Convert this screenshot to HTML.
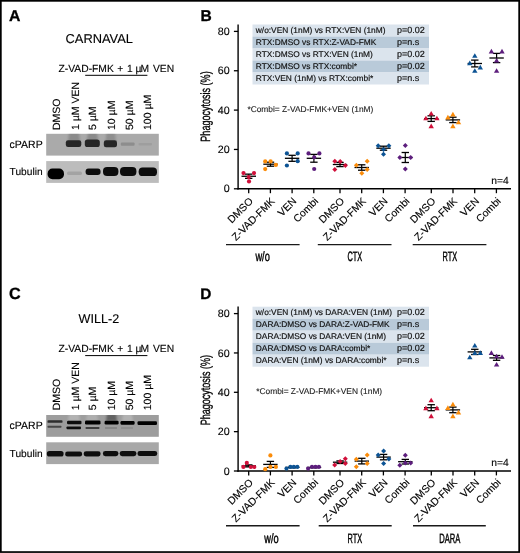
<!DOCTYPE html><html><head><meta charset="utf-8"><style>html,body{margin:0;padding:0;background:#fff;}svg{display:block;will-change:transform;}text{font-family:"Liberation Sans",sans-serif;text-rendering:geometricPrecision;}</style></head><body><svg width="520" height="553" viewBox="0 0 520 553" font-family="Liberation Sans, sans-serif">
<defs><filter id="blur" x="-20%" y="-50%" width="140%" height="200%"><feGaussianBlur stdDeviation="0.65"/></filter><filter id="blur2" x="-30%" y="-30%" width="160%" height="160%"><feGaussianBlur stdDeviation="1.2"/></filter></defs>
<rect x="0" y="0" width="520" height="553" fill="#fff"/>
<rect x="0.85" y="0.85" width="518.3" height="551.2" fill="none" stroke="#000" stroke-width="1.7"/>
<text x="9.0" y="20.6" font-size="15.8" text-anchor="start" font-weight="bold" fill="#000" stroke="#000" stroke-width="0.3">A</text>
<text x="200.5" y="21.05" font-size="15.6" text-anchor="start" font-weight="bold" fill="#000" stroke="#000" stroke-width="0.3">B</text>
<text x="9.1" y="298.9" font-size="16.2" text-anchor="start" font-weight="bold" fill="#000" stroke="#000" stroke-width="0.3">C</text>
<text x="200.2" y="299.2" font-size="15.4" text-anchor="start" font-weight="bold" fill="#000" stroke="#000" stroke-width="0.3">D</text>
<text x="65.6" y="42.9" font-size="12.85" text-anchor="start" font-weight="normal" fill="#000"  stroke="#000" stroke-width="0.12">CARNAVAL</text>
<text y="71.9" font-size="10.3" stroke="#000" stroke-width="0.12"><tspan x="58.5" word-spacing="0.7">Z-VAD-FMK + 1</tspan><tspan x="135.4">&#181;</tspan><tspan x="140.4">M</tspan><tspan x="153.0">VEN</tspan></text>
<line x1="85.2" y1="75.3" x2="147.4" y2="75.3" stroke="#000" stroke-width="1.0"/>
<text transform="translate(59.7,130.0) rotate(-90)" font-size="10.5" stroke="#000" stroke-width="0.12">DMSO</text>
<text transform="translate(78.6,130.0) rotate(-90)" font-size="10.5" stroke="#000" stroke-width="0.12">1 &#181;M VEN</text>
<text transform="translate(95.8,130.0) rotate(-90)" font-size="10.5" stroke="#000" stroke-width="0.12">5 &#181;M</text>
<text transform="translate(114.5,130.0) rotate(-90)" font-size="10.5" stroke="#000" stroke-width="0.12">10 &#181;M</text>
<text transform="translate(132.9,130.0) rotate(-90)" font-size="10.5" stroke="#000" stroke-width="0.12">50 &#181;M</text>
<text transform="translate(150.8,130.0) rotate(-90)" font-size="10.5" stroke="#000" stroke-width="0.12">100 &#181;M</text>
<rect x="46.2" y="133.8" width="112.6" height="21.8" fill="#aaaaaa"/>
<rect x="46.2" y="161.1" width="112.6" height="21.8" fill="#bcbcbc"/>
<clipPath id="c0a"><rect x="46.2" y="133.8" width="112.6" height="21.8"/></clipPath><clipPath id="c0b"><rect x="46.2" y="161.1" width="112.6" height="21.8"/></clipPath>
<g clip-path="url(#c0a)">
<path d="M69 132 L79 132 L80 142 L68 142 Z" fill="#555" opacity="0.35" filter="url(#blur2)"/>
<path d="M88 132 L97 132 L98 141 L87 141 Z" fill="#555" opacity="0.35" filter="url(#blur2)"/>
<path d="M106.5 132 L115.0 132 L116.0 142 L105.5 142 Z" fill="#555" opacity="0.3" filter="url(#blur2)"/>
<rect x="65.8" y="140.2" width="15.5" height="6.8" rx="2.2666666666666666" fill="#222" opacity="0.97" filter="url(#blur)"/>
<rect x="84.8" y="139.4" width="15" height="7.6" rx="2.533333333333333" fill="#222" opacity="0.97" filter="url(#blur)"/>
<rect x="103.8" y="140.3" width="13.2" height="7.0" rx="2.3333333333333335" fill="#222" opacity="0.97" filter="url(#blur)"/>
<rect x="120.8" y="142.5" width="13.8" height="3.2" rx="1.0666666666666667" fill="#7a7a7a" opacity="0.6" filter="url(#blur)"/>
<rect x="138.5" y="143" width="13.5" height="2.4" rx="0.7999999999999999" fill="#8a8a8a" opacity="0.35" filter="url(#blur)"/>
</g>
<g clip-path="url(#c0b)">
<rect x="47.6" y="168.6" width="16.4" height="10.6" rx="4.8181818181818175" fill="#000" opacity="1" filter="url(#blur)"/>
<rect x="67" y="171.5" width="15" height="3.6" rx="1.6363636363636362" fill="#999" opacity="0.7" filter="url(#blur)"/>
<rect x="85.6" y="168.5" width="15" height="6.4" rx="2.909090909090909" fill="#111" opacity="1" filter="url(#blur)"/>
<rect x="103" y="167" width="15.4" height="9" rx="4.090909090909091" fill="#0a0a0a" opacity="1" filter="url(#blur)"/>
<rect x="120" y="167" width="16.4" height="9" rx="4.090909090909091" fill="#0a0a0a" opacity="1" filter="url(#blur)"/>
<rect x="138.7" y="167.5" width="18.3" height="8.5" rx="3.8636363636363633" fill="#0a0a0a" opacity="1" filter="url(#blur)"/>
</g>
<text x="9.6" y="148.1" font-size="10.5" text-anchor="start" font-weight="normal" fill="#000"  stroke="#000" stroke-width="0.12">cPARP</text>
<text x="9.6" y="175.3" font-size="10.2" text-anchor="start" font-weight="normal" fill="#000"  stroke="#000" stroke-width="0.12">Tubulin</text>
<text x="78.6" y="323.3" font-size="12.6" text-anchor="start" font-weight="normal" fill="#000"  stroke="#000" stroke-width="0.12">WILL-2</text>
<text y="352.20000000000005" font-size="10.3" stroke="#000" stroke-width="0.12"><tspan x="58.5" word-spacing="0.7">Z-VAD-FMK + 1</tspan><tspan x="135.4">&#181;</tspan><tspan x="140.4">M</tspan><tspan x="153.0">VEN</tspan></text>
<line x1="85.2" y1="355.6" x2="147.4" y2="355.6" stroke="#000" stroke-width="1.0"/>
<text transform="translate(59.7,410.3) rotate(-90)" font-size="10.5" stroke="#000" stroke-width="0.12">DMSO</text>
<text transform="translate(78.6,410.3) rotate(-90)" font-size="10.5" stroke="#000" stroke-width="0.12">1 &#181;M VEN</text>
<text transform="translate(95.8,410.3) rotate(-90)" font-size="10.5" stroke="#000" stroke-width="0.12">5 &#181;M</text>
<text transform="translate(114.5,410.3) rotate(-90)" font-size="10.5" stroke="#000" stroke-width="0.12">10 &#181;M</text>
<text transform="translate(132.9,410.3) rotate(-90)" font-size="10.5" stroke="#000" stroke-width="0.12">50 &#181;M</text>
<text transform="translate(150.8,410.3) rotate(-90)" font-size="10.5" stroke="#000" stroke-width="0.12">100 &#181;M</text>
<rect x="46.2" y="415.0" width="112.6" height="21.8" fill="#9d9d9d"/>
<rect x="46.2" y="442.29999999999995" width="112.6" height="21.8" fill="#a8a8a8"/>
<clipPath id="c281a"><rect x="46.2" y="415.0" width="112.6" height="21.8"/></clipPath><clipPath id="c281b"><rect x="46.2" y="442.29999999999995" width="112.6" height="21.8"/></clipPath>
<g clip-path="url(#c281a)">
<path d="M69 413.2 L79 413.2 L80 421.0 L68 421.0 Z" fill="#c8c8c8" opacity="0.5" filter="url(#blur2)"/>
<path d="M87 413.2 L97 413.2 L98 421.0 L86 421.0 Z" fill="#c0c0c0" opacity="0.5" filter="url(#blur2)"/>
<path d="M107 413.2 L116 413.2 L117 421.0 L106 421.0 Z" fill="#333" opacity="0.55" filter="url(#blur2)"/>
<path d="M123 413.2 L132 413.2 L133 421.5 L122 421.5 Z" fill="#c8c8c8" opacity="0.5" filter="url(#blur2)"/>
<rect x="47.5" y="420.2" width="15" height="2.6" rx="0.8666666666666667" fill="#222" opacity="0.9" filter="url(#blur)"/>
<rect x="47.5" y="425.7" width="14" height="2.0" rx="0.6666666666666666" fill="#333" opacity="0.8" filter="url(#blur)"/>
<rect x="67" y="420.7" width="14.5" height="3.6" rx="1.2" fill="#111" opacity="1" filter="url(#blur)"/>
<rect x="66.5" y="426.4" width="14.5" height="2.8" rx="0.9333333333333332" fill="#111" opacity="1" filter="url(#blur)"/>
<rect x="85" y="420.5" width="15.5" height="4" rx="1.3333333333333333" fill="#050505" opacity="1" filter="url(#blur)"/>
<rect x="85.5" y="426.9" width="14" height="2" rx="0.6666666666666666" fill="#333" opacity="0.9" filter="url(#blur)"/>
<rect x="104.6" y="420.7" width="14" height="3.8" rx="1.2666666666666666" fill="#050505" opacity="1" filter="url(#blur)"/>
<rect x="105" y="427.4" width="12" height="1.2" rx="0.39999999999999997" fill="#555" opacity="0.6" filter="url(#blur)"/>
<rect x="120.5" y="420.9" width="14.1" height="3.8" rx="1.2666666666666666" fill="#050505" opacity="1" filter="url(#blur)"/>
<rect x="121" y="427.4" width="12" height="1.2" rx="0.39999999999999997" fill="#666" opacity="0.5" filter="url(#blur)"/>
<rect x="137.5" y="421.2" width="19.5" height="3.8" rx="1.2666666666666666" fill="#050505" opacity="1" filter="url(#blur)"/>
</g>
<g clip-path="url(#c281b)">
<rect x="46.8" y="450.9" width="16.8" height="5.6" rx="2.545454545454545" fill="#111" opacity="1" filter="url(#blur)"/>
<rect x="65.2" y="451.4" width="16.9" height="5" rx="2.2727272727272725" fill="#111" opacity="1" filter="url(#blur)"/>
<rect x="83.7" y="451.2" width="16.9" height="5.2" rx="2.3636363636363633" fill="#111" opacity="1" filter="url(#blur)"/>
<rect x="102.9" y="450.9" width="15.5" height="5.4" rx="2.4545454545454546" fill="#111" opacity="1" filter="url(#blur)"/>
<rect x="119.7" y="450.9" width="16.7" height="5.4" rx="2.4545454545454546" fill="#111" opacity="1" filter="url(#blur)"/>
<rect x="137.5" y="451.09999999999997" width="19.7" height="5" rx="2.2727272727272725" fill="#111" opacity="1" filter="url(#blur)"/>
</g>
<text x="9.6" y="429.29999999999995" font-size="10.5" text-anchor="start" font-weight="normal" fill="#000"  stroke="#000" stroke-width="0.12">cPARP</text>
<text x="9.6" y="456.5" font-size="10.2" text-anchor="start" font-weight="normal" fill="#000"  stroke="#000" stroke-width="0.12">Tubulin</text>
<rect x="252.5" y="24.5" width="176.5" height="12" fill="#dbe4ed"/>
<rect x="252.5" y="36.5" width="176.5" height="12" fill="#b9cad9"/>
<rect x="252.5" y="48.5" width="176.5" height="12" fill="#dbe4ed"/>
<rect x="252.5" y="60.5" width="176.5" height="12" fill="#b9cad9"/>
<rect x="252.5" y="72.5" width="176.5" height="12" fill="#dbe4ed"/>
<text x="255.8" y="33.1" font-size="8.35" text-anchor="start" font-weight="normal" fill="#111" stroke="#111" stroke-width="0.18">w/o:VEN (1nM) vs RTX:VEN (1nM)</text>
<text x="396.9" y="33.0" font-size="9.0" text-anchor="start" font-weight="normal" fill="#111" stroke="#111" stroke-width="0.18">p=0.02</text>
<text x="255.8" y="45.1" font-size="8.35" text-anchor="start" font-weight="normal" fill="#111" stroke="#111" stroke-width="0.18">RTX:DMSO vs RTX:Z-VAD-FMK</text>
<text x="396.9" y="45.0" font-size="9.0" text-anchor="start" font-weight="normal" fill="#111" stroke="#111" stroke-width="0.18">p=n.s</text>
<text x="255.8" y="57.1" font-size="8.35" text-anchor="start" font-weight="normal" fill="#111" stroke="#111" stroke-width="0.18">RTX:DMSO vs RTX:VEN (1nM)</text>
<text x="396.9" y="57.0" font-size="9.0" text-anchor="start" font-weight="normal" fill="#111" stroke="#111" stroke-width="0.18">p=0.02</text>
<text x="255.8" y="69.1" font-size="8.35" text-anchor="start" font-weight="normal" fill="#111" stroke="#111" stroke-width="0.18">RTX:DMSO vs RTX:combi*</text>
<text x="396.9" y="69.0" font-size="9.0" text-anchor="start" font-weight="normal" fill="#111" stroke="#111" stroke-width="0.18">p=0.02</text>
<text x="255.8" y="81.1" font-size="8.35" text-anchor="start" font-weight="normal" fill="#111" stroke="#111" stroke-width="0.18">RTX:VEN (1nM) vs RTX:combi*</text>
<text x="396.9" y="81.0" font-size="9.0" text-anchor="start" font-weight="normal" fill="#111" stroke="#111" stroke-width="0.18">p=n.s</text>
<line x1="238.1" y1="24.4" x2="238.1" y2="189.45000000000002" stroke="#000" stroke-width="1.4"/>
<line x1="233.9" y1="188.8" x2="238.1" y2="188.8" stroke="#000" stroke-width="1.3"/>
<text x="229.7" y="192.4" font-size="10.7" text-anchor="end" font-weight="normal" fill="#000"  stroke="#000" stroke-width="0.12">0</text>
<line x1="233.9" y1="149.45000000000002" x2="238.1" y2="149.45000000000002" stroke="#000" stroke-width="1.3"/>
<text x="229.7" y="153.05" font-size="10.7" text-anchor="end" font-weight="normal" fill="#000"  stroke="#000" stroke-width="0.12">20</text>
<line x1="233.9" y1="110.10000000000001" x2="238.1" y2="110.10000000000001" stroke="#000" stroke-width="1.3"/>
<text x="229.7" y="113.7" font-size="10.7" text-anchor="end" font-weight="normal" fill="#000"  stroke="#000" stroke-width="0.12">40</text>
<line x1="233.9" y1="70.75000000000001" x2="238.1" y2="70.75000000000001" stroke="#000" stroke-width="1.3"/>
<text x="229.7" y="74.35000000000001" font-size="10.7" text-anchor="end" font-weight="normal" fill="#000"  stroke="#000" stroke-width="0.12">60</text>
<line x1="233.9" y1="31.400000000000006" x2="238.1" y2="31.400000000000006" stroke="#000" stroke-width="1.3"/>
<text x="229.7" y="35.00000000000001" font-size="10.7" text-anchor="end" font-weight="normal" fill="#000"  stroke="#000" stroke-width="0.12">80</text>
<line x1="237.4" y1="188.8" x2="511" y2="188.8" stroke="#000" stroke-width="1.4"/>
<line x1="248.7" y1="188.8" x2="248.7" y2="193.20000000000002" stroke="#000" stroke-width="1.3"/>
<line x1="270.4" y1="188.8" x2="270.4" y2="193.20000000000002" stroke="#000" stroke-width="1.3"/>
<line x1="292.1" y1="188.8" x2="292.1" y2="193.20000000000002" stroke="#000" stroke-width="1.3"/>
<line x1="313.8" y1="188.8" x2="313.8" y2="193.20000000000002" stroke="#000" stroke-width="1.3"/>
<line x1="340" y1="188.8" x2="340" y2="193.20000000000002" stroke="#000" stroke-width="1.3"/>
<line x1="361.7" y1="188.8" x2="361.7" y2="193.20000000000002" stroke="#000" stroke-width="1.3"/>
<line x1="383.4" y1="188.8" x2="383.4" y2="193.20000000000002" stroke="#000" stroke-width="1.3"/>
<line x1="405.1" y1="188.8" x2="405.1" y2="193.20000000000002" stroke="#000" stroke-width="1.3"/>
<line x1="431.3" y1="188.8" x2="431.3" y2="193.20000000000002" stroke="#000" stroke-width="1.3"/>
<line x1="453" y1="188.8" x2="453" y2="193.20000000000002" stroke="#000" stroke-width="1.3"/>
<line x1="474.7" y1="188.8" x2="474.7" y2="193.20000000000002" stroke="#000" stroke-width="1.3"/>
<line x1="496.4" y1="188.8" x2="496.4" y2="193.20000000000002" stroke="#000" stroke-width="1.3"/>
<text transform="translate(210.0,106.5) rotate(-90) scale(0.675,1)" font-size="13.4" stroke="#000" stroke-width="0.35" text-anchor="middle">Phagocytosis (%)</text>
<text x="247.4" y="112" font-size="8.4" text-anchor="start" font-weight="normal" fill="#222"  stroke="#222" stroke-width="0.12">*Combi= Z-VAD-FMK+VEN (1nM)</text>
<text x="491.2" y="183.6" font-size="10.3" text-anchor="start" font-weight="normal" fill="#000"  stroke="#000" stroke-width="0.12">n=4</text>
<text transform="translate(253.7,201.8) rotate(-45)" font-size="10.4" text-anchor="end" stroke="#000" stroke-width="0.12">DMSO</text>
<text transform="translate(275.4,201.8) rotate(-45)" font-size="10.4" text-anchor="end" stroke="#000" stroke-width="0.12">Z-VAD-FMK</text>
<text transform="translate(297.1,201.8) rotate(-45)" font-size="10.4" text-anchor="end" stroke="#000" stroke-width="0.12">VEN</text>
<text transform="translate(318.8,201.8) rotate(-45)" font-size="10.4" text-anchor="end" stroke="#000" stroke-width="0.12">Combi</text>
<text transform="translate(345,201.8) rotate(-45)" font-size="10.4" text-anchor="end" stroke="#000" stroke-width="0.12">DMSO</text>
<text transform="translate(366.7,201.8) rotate(-45)" font-size="10.4" text-anchor="end" stroke="#000" stroke-width="0.12">Z-VAD-FMK</text>
<text transform="translate(388.4,201.8) rotate(-45)" font-size="10.4" text-anchor="end" stroke="#000" stroke-width="0.12">VEN</text>
<text transform="translate(410.1,201.8) rotate(-45)" font-size="10.4" text-anchor="end" stroke="#000" stroke-width="0.12">Combi</text>
<text transform="translate(436.3,201.8) rotate(-45)" font-size="10.4" text-anchor="end" stroke="#000" stroke-width="0.12">DMSO</text>
<text transform="translate(458,201.8) rotate(-45)" font-size="10.4" text-anchor="end" stroke="#000" stroke-width="0.12">Z-VAD-FMK</text>
<text transform="translate(479.7,201.8) rotate(-45)" font-size="10.4" text-anchor="end" stroke="#000" stroke-width="0.12">VEN</text>
<text transform="translate(501.4,201.8) rotate(-45)" font-size="10.4" text-anchor="end" stroke="#000" stroke-width="0.12">Combi</text>
<line x1="226" y1="244.6" x2="299.6" y2="244.6" stroke="#1a1a1a" stroke-width="1.4"/>
<line x1="317.8" y1="244.6" x2="391.5" y2="244.6" stroke="#1a1a1a" stroke-width="1.4"/>
<line x1="412.7" y1="244.6" x2="486.4" y2="244.6" stroke="#1a1a1a" stroke-width="1.4"/>
<text transform="translate(262.6,260.9) scale(0.68,1)" font-size="13.6" text-anchor="middle" stroke="#000" stroke-width="0.45">w/o</text>
<text transform="translate(354.8,260.9) scale(0.54,1)" font-size="13.6" text-anchor="middle" stroke="#000" stroke-width="0.45">CTX</text>
<text transform="translate(449.8,260.9) scale(0.54,1)" font-size="13.6" text-anchor="middle" stroke="#000" stroke-width="0.45">RTX</text>
<line x1="248.7" y1="174.15" x2="248.7" y2="178.35" stroke="#000" stroke-width="1.2"/>
<line x1="245.0" y1="174.15" x2="252.39999999999998" y2="174.15" stroke="#000" stroke-width="1.3"/>
<line x1="245.0" y1="178.35" x2="252.39999999999998" y2="178.35" stroke="#000" stroke-width="1.3"/>
<line x1="241.5" y1="176.25" x2="255.89999999999998" y2="176.25" stroke="#000" stroke-width="1.3"/>
<circle cx="243.5" cy="173.1" r="2.1" fill="#d1103a"/>
<circle cx="254" cy="173.1" r="2.1" fill="#d1103a"/>
<circle cx="248.7" cy="177.1" r="2.1" fill="#d1103a"/>
<circle cx="249" cy="181.4" r="2.1" fill="#d1103a"/>
<line x1="270.5" y1="162.2" x2="270.5" y2="166.2" stroke="#000" stroke-width="1.2"/>
<line x1="266.8" y1="162.2" x2="274.2" y2="162.2" stroke="#000" stroke-width="1.3"/>
<line x1="266.8" y1="166.2" x2="274.2" y2="166.2" stroke="#000" stroke-width="1.3"/>
<line x1="263.3" y1="164.2" x2="277.7" y2="164.2" stroke="#000" stroke-width="1.3"/>
<circle cx="265.2" cy="161.4" r="2.1" fill="#fb8c0a"/>
<circle cx="270.6" cy="161.4" r="2.1" fill="#fb8c0a"/>
<circle cx="275.9" cy="164.9" r="2.1" fill="#fb8c0a"/>
<circle cx="265.2" cy="169.1" r="2.1" fill="#fb8c0a"/>
<line x1="292.1" y1="155.3" x2="292.1" y2="161.3" stroke="#000" stroke-width="1.2"/>
<line x1="288.40000000000003" y1="155.3" x2="295.8" y2="155.3" stroke="#000" stroke-width="1.3"/>
<line x1="288.40000000000003" y1="161.3" x2="295.8" y2="161.3" stroke="#000" stroke-width="1.3"/>
<line x1="284.90000000000003" y1="158.3" x2="299.3" y2="158.3" stroke="#000" stroke-width="1.3"/>
<circle cx="286.9" cy="153.4" r="2.1" fill="#0c5394"/>
<circle cx="297.7" cy="153.4" r="2.1" fill="#0c5394"/>
<circle cx="297.7" cy="161.2" r="2.1" fill="#0c5394"/>
<circle cx="286.9" cy="165.5" r="2.1" fill="#0c5394"/>
<line x1="313.9" y1="154.4" x2="313.9" y2="162.20000000000002" stroke="#000" stroke-width="1.2"/>
<line x1="310.2" y1="154.4" x2="317.59999999999997" y2="154.4" stroke="#000" stroke-width="1.3"/>
<line x1="310.2" y1="162.20000000000002" x2="317.59999999999997" y2="162.20000000000002" stroke="#000" stroke-width="1.3"/>
<line x1="306.7" y1="158.3" x2="321.09999999999997" y2="158.3" stroke="#000" stroke-width="1.3"/>
<circle cx="308.5" cy="153.4" r="2.1" fill="#5d1e7d"/>
<circle cx="319.4" cy="153.4" r="2.1" fill="#5d1e7d"/>
<circle cx="314.2" cy="157.3" r="2.1" fill="#5d1e7d"/>
<circle cx="314.2" cy="169" r="2.1" fill="#5d1e7d"/>
<line x1="340.0" y1="162.4" x2="340.0" y2="166.6" stroke="#000" stroke-width="1.2"/>
<line x1="336.3" y1="162.4" x2="343.7" y2="162.4" stroke="#000" stroke-width="1.3"/>
<line x1="336.3" y1="166.6" x2="343.7" y2="166.6" stroke="#000" stroke-width="1.3"/>
<line x1="332.8" y1="164.5" x2="347.2" y2="164.5" stroke="#000" stroke-width="1.3"/>
<path d="M334.8 158.7L337.3 161.2L334.8 163.7L332.3 161.2Z" fill="#d1103a"/>
<path d="M340.2 159.1L342.7 161.6L340.2 164.1L337.7 161.6Z" fill="#d1103a"/>
<path d="M345.4 163.0L347.9 165.5L345.4 168.0L342.9 165.5Z" fill="#d1103a"/>
<path d="M334.8 166.9L337.3 169.4L334.8 171.9L332.3 169.4Z" fill="#d1103a"/>
<line x1="361.7" y1="164.8" x2="361.7" y2="170.2" stroke="#000" stroke-width="1.2"/>
<line x1="358.0" y1="164.8" x2="365.4" y2="164.8" stroke="#000" stroke-width="1.3"/>
<line x1="358.0" y1="170.2" x2="365.4" y2="170.2" stroke="#000" stroke-width="1.3"/>
<line x1="354.5" y1="167.5" x2="368.9" y2="167.5" stroke="#000" stroke-width="1.3"/>
<path d="M367.2 158.7L369.7 161.2L367.2 163.7L364.7 161.2Z" fill="#fb8c0a"/>
<path d="M356.4 162.8L358.9 165.3L356.4 167.8L353.9 165.3Z" fill="#fb8c0a"/>
<path d="M367.2 166.9L369.7 169.4L367.2 171.9L364.7 169.4Z" fill="#fb8c0a"/>
<path d="M361.8 170.8L364.3 173.3L361.8 175.8L359.3 173.3Z" fill="#fb8c0a"/>
<line x1="383.5" y1="146.2" x2="383.5" y2="150.2" stroke="#000" stroke-width="1.2"/>
<line x1="379.8" y1="146.2" x2="387.2" y2="146.2" stroke="#000" stroke-width="1.3"/>
<line x1="379.8" y1="150.2" x2="387.2" y2="150.2" stroke="#000" stroke-width="1.3"/>
<line x1="376.3" y1="148.2" x2="390.7" y2="148.2" stroke="#000" stroke-width="1.3"/>
<path d="M378.2 143.2L380.7 145.7L378.2 148.2L375.7 145.7Z" fill="#0c5394"/>
<path d="M388.9 143.2L391.4 145.7L388.9 148.2L386.4 145.7Z" fill="#0c5394"/>
<path d="M383.5 147.0L386.0 149.5L383.5 152.0L381.0 149.5Z" fill="#0c5394"/>
<path d="M383.5 151.7L386.0 154.2L383.5 156.7L381.0 154.2Z" fill="#0c5394"/>
<line x1="405.3" y1="152.5" x2="405.3" y2="162.5" stroke="#000" stroke-width="1.2"/>
<line x1="401.6" y1="152.5" x2="409.0" y2="152.5" stroke="#000" stroke-width="1.3"/>
<line x1="401.6" y1="162.5" x2="409.0" y2="162.5" stroke="#000" stroke-width="1.3"/>
<line x1="398.1" y1="157.5" x2="412.5" y2="157.5" stroke="#000" stroke-width="1.3"/>
<path d="M405.3 143.1L407.8 145.6L405.3 148.1L402.8 145.6Z" fill="#5d1e7d"/>
<path d="M399.9 155.0L402.4 157.5L399.9 160.0L397.4 157.5Z" fill="#5d1e7d"/>
<path d="M410.7 155.0L413.2 157.5L410.7 160.0L408.2 157.5Z" fill="#5d1e7d"/>
<path d="M405.3 166.6L407.8 169.1L405.3 171.6L402.8 169.1Z" fill="#5d1e7d"/>
<line x1="431.2" y1="115.8" x2="431.2" y2="121.39999999999999" stroke="#000" stroke-width="1.2"/>
<line x1="427.5" y1="115.8" x2="434.9" y2="115.8" stroke="#000" stroke-width="1.3"/>
<line x1="427.5" y1="121.39999999999999" x2="434.9" y2="121.39999999999999" stroke="#000" stroke-width="1.3"/>
<line x1="424.0" y1="118.6" x2="438.4" y2="118.6" stroke="#000" stroke-width="1.3"/>
<path d="M431.2 110.948L433.9 115.548L428.5 115.548Z" fill="#d1103a"/>
<path d="M425.9 115.74799999999999L428.59999999999997 120.348L423.2 120.348Z" fill="#d1103a"/>
<path d="M436.9 115.74799999999999L439.59999999999997 120.348L434.2 120.348Z" fill="#d1103a"/>
<path d="M431.2 123.548L433.9 128.148L428.5 128.148Z" fill="#d1103a"/>
<line x1="452.9" y1="117.2" x2="452.9" y2="122.60000000000001" stroke="#000" stroke-width="1.2"/>
<line x1="449.2" y1="117.2" x2="456.59999999999997" y2="117.2" stroke="#000" stroke-width="1.3"/>
<line x1="449.2" y1="122.60000000000001" x2="456.59999999999997" y2="122.60000000000001" stroke="#000" stroke-width="1.3"/>
<line x1="445.7" y1="119.9" x2="460.09999999999997" y2="119.9" stroke="#000" stroke-width="1.3"/>
<path d="M452.9 111.848L455.59999999999997 116.44800000000001L450.2 116.44800000000001Z" fill="#fb8c0a"/>
<path d="M447.9 114.848L450.59999999999997 119.44800000000001L445.2 119.44800000000001Z" fill="#fb8c0a"/>
<path d="M458.5 119.648L461.2 124.248L455.8 124.248Z" fill="#fb8c0a"/>
<path d="M452.9 123.548L455.59999999999997 128.148L450.2 128.148Z" fill="#fb8c0a"/>
<line x1="474.8" y1="60.1" x2="474.8" y2="66.9" stroke="#000" stroke-width="1.2"/>
<line x1="471.1" y1="60.1" x2="478.5" y2="60.1" stroke="#000" stroke-width="1.3"/>
<line x1="471.1" y1="66.9" x2="478.5" y2="66.9" stroke="#000" stroke-width="1.3"/>
<line x1="467.6" y1="63.5" x2="482.0" y2="63.5" stroke="#000" stroke-width="1.3"/>
<path d="M474.8 53.148L477.5 57.748L472.1 57.748Z" fill="#0c5394"/>
<path d="M469.8 60.548L472.5 65.148L467.1 65.148Z" fill="#0c5394"/>
<path d="M480.3 64.848L483.0 69.44800000000001L477.6 69.44800000000001Z" fill="#0c5394"/>
<path d="M474.8 68.24799999999999L477.5 72.848L472.1 72.848Z" fill="#0c5394"/>
<line x1="496.6" y1="53.4" x2="496.6" y2="62.6" stroke="#000" stroke-width="1.2"/>
<line x1="492.90000000000003" y1="53.4" x2="500.3" y2="53.4" stroke="#000" stroke-width="1.3"/>
<line x1="492.90000000000003" y1="62.6" x2="500.3" y2="62.6" stroke="#000" stroke-width="1.3"/>
<line x1="489.40000000000003" y1="58.0" x2="503.8" y2="58.0" stroke="#000" stroke-width="1.3"/>
<path d="M491.4 48.848000000000006L494.09999999999997 53.448L488.7 53.448Z" fill="#5d1e7d"/>
<path d="M502 48.848000000000006L504.7 53.448L499.3 53.448Z" fill="#5d1e7d"/>
<path d="M496.6 57.948L499.3 62.547999999999995L493.90000000000003 62.547999999999995Z" fill="#5d1e7d"/>
<path d="M496.6 68.24799999999999L499.3 72.848L493.90000000000003 72.848Z" fill="#5d1e7d"/>
<rect x="252.5" y="306.7" width="176.5" height="12" fill="#dbe4ed"/>
<rect x="252.5" y="318.7" width="176.5" height="12" fill="#b9cad9"/>
<rect x="252.5" y="330.7" width="176.5" height="12" fill="#dbe4ed"/>
<rect x="252.5" y="342.7" width="176.5" height="12" fill="#b9cad9"/>
<rect x="252.5" y="354.7" width="176.5" height="12" fill="#dbe4ed"/>
<text x="255.8" y="315.3" font-size="8.35" text-anchor="start" font-weight="normal" fill="#111" stroke="#111" stroke-width="0.18">w/o:VEN (1nM) vs DARA:VEN (1nM)</text>
<text x="396.9" y="315.2" font-size="9.0" text-anchor="start" font-weight="normal" fill="#111" stroke="#111" stroke-width="0.18">p=0.02</text>
<text x="255.8" y="327.3" font-size="8.35" text-anchor="start" font-weight="normal" fill="#111" stroke="#111" stroke-width="0.18">DARA:DMSO vs DARA:Z-VAD-FMK</text>
<text x="396.9" y="327.2" font-size="9.0" text-anchor="start" font-weight="normal" fill="#111" stroke="#111" stroke-width="0.18">p=n.s</text>
<text x="255.8" y="339.3" font-size="8.35" text-anchor="start" font-weight="normal" fill="#111" stroke="#111" stroke-width="0.18">DARA:DMSO vs DARA:VEN (1nM)</text>
<text x="396.9" y="339.2" font-size="9.0" text-anchor="start" font-weight="normal" fill="#111" stroke="#111" stroke-width="0.18">p=0.02</text>
<text x="255.8" y="351.3" font-size="8.35" text-anchor="start" font-weight="normal" fill="#111" stroke="#111" stroke-width="0.18">DARA:DMSO vs DARA:combi*</text>
<text x="396.9" y="351.2" font-size="9.0" text-anchor="start" font-weight="normal" fill="#111" stroke="#111" stroke-width="0.18">p=0.02</text>
<text x="255.8" y="363.3" font-size="8.35" text-anchor="start" font-weight="normal" fill="#111" stroke="#111" stroke-width="0.18">DARA:VEN (1nM) vs DARA:combi*</text>
<text x="396.9" y="363.2" font-size="9.0" text-anchor="start" font-weight="normal" fill="#111" stroke="#111" stroke-width="0.18">p=n.s</text>
<line x1="238.1" y1="306.59999999999997" x2="238.1" y2="471.65" stroke="#000" stroke-width="1.4"/>
<line x1="233.9" y1="471.0" x2="238.1" y2="471.0" stroke="#000" stroke-width="1.3"/>
<text x="229.7" y="474.6" font-size="10.7" text-anchor="end" font-weight="normal" fill="#000"  stroke="#000" stroke-width="0.12">0</text>
<line x1="233.9" y1="431.65" x2="238.1" y2="431.65" stroke="#000" stroke-width="1.3"/>
<text x="229.7" y="435.25" font-size="10.7" text-anchor="end" font-weight="normal" fill="#000"  stroke="#000" stroke-width="0.12">20</text>
<line x1="233.9" y1="392.3" x2="238.1" y2="392.3" stroke="#000" stroke-width="1.3"/>
<text x="229.7" y="395.90000000000003" font-size="10.7" text-anchor="end" font-weight="normal" fill="#000"  stroke="#000" stroke-width="0.12">40</text>
<line x1="233.9" y1="352.95" x2="238.1" y2="352.95" stroke="#000" stroke-width="1.3"/>
<text x="229.7" y="356.55" font-size="10.7" text-anchor="end" font-weight="normal" fill="#000"  stroke="#000" stroke-width="0.12">60</text>
<line x1="233.9" y1="313.6" x2="238.1" y2="313.6" stroke="#000" stroke-width="1.3"/>
<text x="229.7" y="317.20000000000005" font-size="10.7" text-anchor="end" font-weight="normal" fill="#000"  stroke="#000" stroke-width="0.12">80</text>
<line x1="237.4" y1="471.0" x2="511" y2="471.0" stroke="#000" stroke-width="1.4"/>
<line x1="248.7" y1="471.0" x2="248.7" y2="475.4" stroke="#000" stroke-width="1.3"/>
<line x1="270.4" y1="471.0" x2="270.4" y2="475.4" stroke="#000" stroke-width="1.3"/>
<line x1="292.1" y1="471.0" x2="292.1" y2="475.4" stroke="#000" stroke-width="1.3"/>
<line x1="313.8" y1="471.0" x2="313.8" y2="475.4" stroke="#000" stroke-width="1.3"/>
<line x1="340" y1="471.0" x2="340" y2="475.4" stroke="#000" stroke-width="1.3"/>
<line x1="361.7" y1="471.0" x2="361.7" y2="475.4" stroke="#000" stroke-width="1.3"/>
<line x1="383.4" y1="471.0" x2="383.4" y2="475.4" stroke="#000" stroke-width="1.3"/>
<line x1="405.1" y1="471.0" x2="405.1" y2="475.4" stroke="#000" stroke-width="1.3"/>
<line x1="431.3" y1="471.0" x2="431.3" y2="475.4" stroke="#000" stroke-width="1.3"/>
<line x1="453" y1="471.0" x2="453" y2="475.4" stroke="#000" stroke-width="1.3"/>
<line x1="474.7" y1="471.0" x2="474.7" y2="475.4" stroke="#000" stroke-width="1.3"/>
<line x1="496.4" y1="471.0" x2="496.4" y2="475.4" stroke="#000" stroke-width="1.3"/>
<text transform="translate(210.0,390.2) rotate(-90) scale(0.675,1)" font-size="13.4" stroke="#000" stroke-width="0.35" text-anchor="middle">Phagocytosis (%)</text>
<text x="256.2" y="394.2" font-size="8.4" text-anchor="start" font-weight="normal" fill="#222"  stroke="#222" stroke-width="0.12">*Combi= Z-VAD-FMK+VEN (1nM)</text>
<text x="491.2" y="465.79999999999995" font-size="10.3" text-anchor="start" font-weight="normal" fill="#000"  stroke="#000" stroke-width="0.12">n=4</text>
<text transform="translate(253.7,483.2) rotate(-45)" font-size="10.4" text-anchor="end" stroke="#000" stroke-width="0.12">DMSO</text>
<text transform="translate(275.4,483.2) rotate(-45)" font-size="10.4" text-anchor="end" stroke="#000" stroke-width="0.12">Z-VAD-FMK</text>
<text transform="translate(297.1,483.2) rotate(-45)" font-size="10.4" text-anchor="end" stroke="#000" stroke-width="0.12">VEN</text>
<text transform="translate(318.8,483.2) rotate(-45)" font-size="10.4" text-anchor="end" stroke="#000" stroke-width="0.12">Combi</text>
<text transform="translate(345,483.2) rotate(-45)" font-size="10.4" text-anchor="end" stroke="#000" stroke-width="0.12">DMSO</text>
<text transform="translate(366.7,483.2) rotate(-45)" font-size="10.4" text-anchor="end" stroke="#000" stroke-width="0.12">Z-VAD-FMK</text>
<text transform="translate(388.4,483.2) rotate(-45)" font-size="10.4" text-anchor="end" stroke="#000" stroke-width="0.12">VEN</text>
<text transform="translate(410.1,483.2) rotate(-45)" font-size="10.4" text-anchor="end" stroke="#000" stroke-width="0.12">Combi</text>
<text transform="translate(436.3,483.2) rotate(-45)" font-size="10.4" text-anchor="end" stroke="#000" stroke-width="0.12">DMSO</text>
<text transform="translate(458,483.2) rotate(-45)" font-size="10.4" text-anchor="end" stroke="#000" stroke-width="0.12">Z-VAD-FMK</text>
<text transform="translate(479.7,483.2) rotate(-45)" font-size="10.4" text-anchor="end" stroke="#000" stroke-width="0.12">VEN</text>
<text transform="translate(501.4,483.2) rotate(-45)" font-size="10.4" text-anchor="end" stroke="#000" stroke-width="0.12">Combi</text>
<line x1="226" y1="525.8" x2="299.6" y2="525.8" stroke="#1a1a1a" stroke-width="1.4"/>
<line x1="318.7" y1="525.8" x2="391.7" y2="525.8" stroke="#1a1a1a" stroke-width="1.4"/>
<line x1="413" y1="525.8" x2="485.8" y2="525.8" stroke="#1a1a1a" stroke-width="1.4"/>
<text transform="translate(271.4,543.0999999999999) scale(0.68,1)" font-size="13.6" text-anchor="middle" stroke="#000" stroke-width="0.45">w/o</text>
<text transform="translate(354.8,543.0999999999999) scale(0.54,1)" font-size="13.6" text-anchor="middle" stroke="#000" stroke-width="0.45">RTX</text>
<text transform="translate(449.8,543.0999999999999) scale(0.56,1)" font-size="13.6" text-anchor="middle" stroke="#000" stroke-width="0.45">DARA</text>
<line x1="248.8" y1="464.9" x2="248.8" y2="466.9" stroke="#000" stroke-width="1.2"/>
<line x1="245.10000000000002" y1="464.9" x2="252.5" y2="464.9" stroke="#000" stroke-width="1.3"/>
<line x1="245.10000000000002" y1="466.9" x2="252.5" y2="466.9" stroke="#000" stroke-width="1.3"/>
<line x1="241.60000000000002" y1="465.9" x2="256.0" y2="465.9" stroke="#000" stroke-width="1.3"/>
<circle cx="243.4" cy="466.9" r="2.1" fill="#d1103a"/>
<circle cx="246.8" cy="462.9" r="2.1" fill="#d1103a"/>
<circle cx="250.8" cy="467.0" r="2.1" fill="#d1103a"/>
<circle cx="254.3" cy="467.0" r="2.1" fill="#d1103a"/>
<line x1="270.4" y1="461.4" x2="270.4" y2="467.4" stroke="#000" stroke-width="1.2"/>
<line x1="266.7" y1="461.4" x2="274.09999999999997" y2="461.4" stroke="#000" stroke-width="1.3"/>
<line x1="266.7" y1="467.4" x2="274.09999999999997" y2="467.4" stroke="#000" stroke-width="1.3"/>
<line x1="263.2" y1="464.4" x2="277.59999999999997" y2="464.4" stroke="#000" stroke-width="1.3"/>
<circle cx="270.4" cy="455.4" r="2.1" fill="#fb8c0a"/>
<circle cx="265.2" cy="469.2" r="2.1" fill="#fb8c0a"/>
<circle cx="270.4" cy="466.9" r="2.1" fill="#fb8c0a"/>
<circle cx="275.9" cy="466.9" r="2.1" fill="#fb8c0a"/>
<line x1="292.3" y1="467.0" x2="292.3" y2="467.79999999999995" stroke="#000" stroke-width="1.2"/>
<line x1="288.6" y1="467.0" x2="296.0" y2="467.0" stroke="#000" stroke-width="1.3"/>
<line x1="288.6" y1="467.79999999999995" x2="296.0" y2="467.79999999999995" stroke="#000" stroke-width="1.3"/>
<line x1="285.1" y1="467.4" x2="299.5" y2="467.4" stroke="#000" stroke-width="1.3"/>
<circle cx="286.5" cy="468.6" r="2.1" fill="#0c5394"/>
<circle cx="290.4" cy="466.9" r="2.1" fill="#0c5394"/>
<circle cx="293.8" cy="466.9" r="2.1" fill="#0c5394"/>
<circle cx="297.3" cy="466.9" r="2.1" fill="#0c5394"/>
<line x1="314.0" y1="467.0" x2="314.0" y2="467.79999999999995" stroke="#000" stroke-width="1.2"/>
<line x1="310.3" y1="467.0" x2="317.7" y2="467.0" stroke="#000" stroke-width="1.3"/>
<line x1="310.3" y1="467.79999999999995" x2="317.7" y2="467.79999999999995" stroke="#000" stroke-width="1.3"/>
<line x1="306.8" y1="467.4" x2="321.2" y2="467.4" stroke="#000" stroke-width="1.3"/>
<circle cx="308.1" cy="468.6" r="2.1" fill="#5d1e7d"/>
<circle cx="312" cy="466.9" r="2.1" fill="#5d1e7d"/>
<circle cx="315.5" cy="466.9" r="2.1" fill="#5d1e7d"/>
<circle cx="318.9" cy="466.9" r="2.1" fill="#5d1e7d"/>
<line x1="340.1" y1="460.9" x2="340.1" y2="463.5" stroke="#000" stroke-width="1.2"/>
<line x1="336.40000000000003" y1="460.9" x2="343.8" y2="460.9" stroke="#000" stroke-width="1.3"/>
<line x1="336.40000000000003" y1="463.5" x2="343.8" y2="463.5" stroke="#000" stroke-width="1.3"/>
<line x1="332.90000000000003" y1="462.2" x2="347.3" y2="462.2" stroke="#000" stroke-width="1.3"/>
<path d="M334.7 462.6L337.2 465.1L334.7 467.6L332.2 465.1Z" fill="#d1103a"/>
<path d="M340.1 458.9L342.6 461.4L340.1 463.9L337.6 461.4Z" fill="#d1103a"/>
<path d="M345.3 456.3L347.8 458.8L345.3 461.3L342.8 458.8Z" fill="#d1103a"/>
<path d="M345.3 461.0L347.8 463.5L345.3 466.0L342.8 463.5Z" fill="#d1103a"/>
<line x1="361.8" y1="458.3" x2="361.8" y2="463.90000000000003" stroke="#000" stroke-width="1.2"/>
<line x1="358.1" y1="458.3" x2="365.5" y2="458.3" stroke="#000" stroke-width="1.3"/>
<line x1="358.1" y1="463.90000000000003" x2="365.5" y2="463.90000000000003" stroke="#000" stroke-width="1.3"/>
<line x1="354.6" y1="461.1" x2="369.0" y2="461.1" stroke="#000" stroke-width="1.3"/>
<path d="M367.2 452.6L369.7 455.1L367.2 457.6L364.7 455.1Z" fill="#fb8c0a"/>
<path d="M356.3 456.7L358.8 459.2L356.3 461.7L353.8 459.2Z" fill="#fb8c0a"/>
<path d="M367.2 460.9L369.7 463.4L367.2 465.9L364.7 463.4Z" fill="#fb8c0a"/>
<path d="M356.3 464.3L358.8 466.8L356.3 469.3L353.8 466.8Z" fill="#fb8c0a"/>
<line x1="383.6" y1="454.40000000000003" x2="383.6" y2="459.8" stroke="#000" stroke-width="1.2"/>
<line x1="379.90000000000003" y1="454.40000000000003" x2="387.3" y2="454.40000000000003" stroke="#000" stroke-width="1.3"/>
<line x1="379.90000000000003" y1="459.8" x2="387.3" y2="459.8" stroke="#000" stroke-width="1.3"/>
<line x1="376.40000000000003" y1="457.1" x2="390.8" y2="457.1" stroke="#000" stroke-width="1.3"/>
<path d="M383.6 448.5L386.1 451.0L383.6 453.5L381.1 451.0Z" fill="#0c5394"/>
<path d="M378.2 452.6L380.7 455.1L378.2 457.6L375.7 455.1Z" fill="#0c5394"/>
<path d="M388.9 456.5L391.4 459.0L388.9 461.5L386.4 459.0Z" fill="#0c5394"/>
<path d="M383.6 460.9L386.1 463.4L383.6 465.9L381.1 463.4Z" fill="#0c5394"/>
<line x1="405.3" y1="459.4" x2="405.3" y2="464.0" stroke="#000" stroke-width="1.2"/>
<line x1="401.6" y1="459.4" x2="409.0" y2="459.4" stroke="#000" stroke-width="1.3"/>
<line x1="401.6" y1="464.0" x2="409.0" y2="464.0" stroke="#000" stroke-width="1.3"/>
<line x1="398.1" y1="461.7" x2="412.5" y2="461.7" stroke="#000" stroke-width="1.3"/>
<path d="M405.3 452.8L407.8 455.3L405.3 457.8L402.8 455.3Z" fill="#5d1e7d"/>
<path d="M399.8 462.8L402.3 465.3L399.8 467.8L397.3 465.3Z" fill="#5d1e7d"/>
<path d="M405.3 460.6L407.8 463.1L405.3 465.6L402.8 463.1Z" fill="#5d1e7d"/>
<path d="M410.7 460.4L413.2 462.9L410.7 465.4L408.2 462.9Z" fill="#5d1e7d"/>
<line x1="431.2" y1="404.7" x2="431.2" y2="410.7" stroke="#000" stroke-width="1.2"/>
<line x1="427.5" y1="404.7" x2="434.9" y2="404.7" stroke="#000" stroke-width="1.3"/>
<line x1="427.5" y1="410.7" x2="434.9" y2="410.7" stroke="#000" stroke-width="1.3"/>
<line x1="424.0" y1="407.7" x2="438.4" y2="407.7" stroke="#000" stroke-width="1.3"/>
<path d="M431.2 397.74800000000005L433.9 402.348L428.5 402.348Z" fill="#d1103a"/>
<path d="M425.9 405.548L428.59999999999997 410.14799999999997L423.2 410.14799999999997Z" fill="#d1103a"/>
<path d="M436.9 405.548L439.59999999999997 410.14799999999997L434.2 410.14799999999997Z" fill="#d1103a"/>
<path d="M431.2 413.548L433.9 418.14799999999997L428.5 418.14799999999997Z" fill="#d1103a"/>
<line x1="452.9" y1="407.09999999999997" x2="452.9" y2="412.7" stroke="#000" stroke-width="1.2"/>
<line x1="449.2" y1="407.09999999999997" x2="456.59999999999997" y2="407.09999999999997" stroke="#000" stroke-width="1.3"/>
<line x1="449.2" y1="412.7" x2="456.59999999999997" y2="412.7" stroke="#000" stroke-width="1.3"/>
<line x1="445.7" y1="409.9" x2="460.09999999999997" y2="409.9" stroke="#000" stroke-width="1.3"/>
<path d="M452.9 401.848L455.59999999999997 406.448L450.2 406.448Z" fill="#fb8c0a"/>
<path d="M447.9 405.348L450.59999999999997 409.948L445.2 409.948Z" fill="#fb8c0a"/>
<path d="M458.5 409.848L461.2 414.448L455.8 414.448Z" fill="#fb8c0a"/>
<path d="M452.9 413.548L455.59999999999997 418.14799999999997L450.2 418.14799999999997Z" fill="#fb8c0a"/>
<line x1="474.8" y1="349.29999999999995" x2="474.8" y2="354.5" stroke="#000" stroke-width="1.2"/>
<line x1="471.1" y1="349.29999999999995" x2="478.5" y2="349.29999999999995" stroke="#000" stroke-width="1.3"/>
<line x1="471.1" y1="354.5" x2="478.5" y2="354.5" stroke="#000" stroke-width="1.3"/>
<line x1="467.6" y1="351.9" x2="482.0" y2="351.9" stroke="#000" stroke-width="1.3"/>
<path d="M474.8 342.94800000000004L477.5 347.548L472.1 347.548Z" fill="#0c5394"/>
<path d="M469.8 354.648L472.5 359.248L467.1 359.248Z" fill="#0c5394"/>
<path d="M474.8 350.348L477.5 354.948L472.1 354.948Z" fill="#0c5394"/>
<path d="M480.3 350.348L483.0 354.948L477.6 354.948Z" fill="#0c5394"/>
<line x1="496.6" y1="355.5" x2="496.6" y2="360.29999999999995" stroke="#000" stroke-width="1.2"/>
<line x1="492.90000000000003" y1="355.5" x2="500.3" y2="355.5" stroke="#000" stroke-width="1.3"/>
<line x1="492.90000000000003" y1="360.29999999999995" x2="500.3" y2="360.29999999999995" stroke="#000" stroke-width="1.3"/>
<line x1="489.40000000000003" y1="357.9" x2="503.8" y2="357.9" stroke="#000" stroke-width="1.3"/>
<path d="M491.4 350.348L494.09999999999997 354.948L488.7 354.948Z" fill="#5d1e7d"/>
<path d="M496.6 353.74800000000005L499.3 358.348L493.90000000000003 358.348Z" fill="#5d1e7d"/>
<path d="M502 354.148L504.7 358.748L499.3 358.748Z" fill="#5d1e7d"/>
<path d="M496.6 361.94800000000004L499.3 366.548L493.90000000000003 366.548Z" fill="#5d1e7d"/>
</svg></body></html>
